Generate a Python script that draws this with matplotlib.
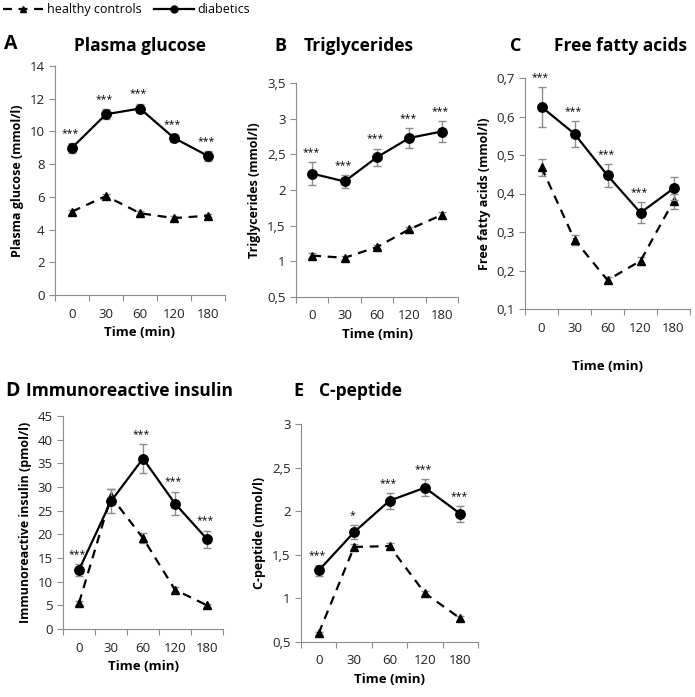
import matplotlib
matplotlib.use("Agg")
import matplotlib.pyplot as plt
from matplotlib.lines import Line2D
from matplotlib.ticker import FuncFormatter

plt.rcParams['font.family'] = ['Open Sans', 'DejaVu Sans']

times = ['0', '30', '60', '120', '180']

# A - plasma glucose (mmol/l)
glu_diab = [9.0, 11.05, 11.4, 9.6, 8.5]
glu_diab_err = [0.3, 0.3, 0.3, 0.25, 0.3]
glu_ctrl = [5.1, 6.05, 5.0, 4.7, 4.85]
glu_ctrl_err = [0.12, 0.15, 0.12, 0.1, 0.1]
glu_stars = ['***', '***', '***', '***', '***']

# B - triglycerides (mmol/l)
tg_diab = [2.23, 2.12, 2.46, 2.73, 2.82]
tg_diab_err = [0.16, 0.09, 0.12, 0.14, 0.15]
tg_ctrl = [1.08, 1.05, 1.2, 1.45, 1.65]
tg_ctrl_err = [0.03, 0.03, 0.03, 0.03, 0.04]
tg_stars = ['***', '***', '***', '***', '***']

# C - free fatty acids (mmol/l)
ffa_diab = [0.625, 0.555, 0.447, 0.35, 0.413]
ffa_diab_err = [0.052, 0.033, 0.03, 0.027, 0.03]
ffa_ctrl = [0.468, 0.28, 0.175, 0.225, 0.38]
ffa_ctrl_err = [0.022, 0.013, 0.008, 0.01, 0.02]
ffa_stars = ['***', '***', '***', '***', '']

# D - immunoreactive insulin (pmol/l)
ins_diab = [12.5, 27.0, 36.0, 26.5, 19.0]
ins_diab_err = [1.2, 2.5, 3.0, 2.5, 1.8]
ins_ctrl = [5.5, 28.0, 19.2, 8.3, 5.0]
ins_ctrl_err = [0.5, 1.5, 1.0, 0.5, 0.3]
ins_stars = ['***', '', '***', '***', '***']

# E - C-peptide (nmol/l)
cp_diab = [1.32, 1.76, 2.12, 2.27, 1.97]
cp_diab_err = [0.06, 0.08, 0.09, 0.1, 0.09]
cp_ctrl = [0.6, 1.59, 1.6, 1.06, 0.77]
cp_ctrl_err = [0.02, 0.03, 0.03, 0.03, 0.03]
cp_stars = ['***', '*', '***', '***', '***']

W, H = 695, 697
fig = plt.figure(figsize=(W / 100, H / 100), dpi=100)
grey = '#8c8c8c'


def px_axes(left, right, top, bottom):
    return fig.add_axes([left / W, 1 - bottom / H, (right - left) / W, (bottom - top) / H])


def comma(v, pos):
    s = ('%g' % v)
    return s.replace('.', ',')


def panel(ax, diab, diab_err, ctrl, ctrl_err, stars, ylim, ystep, ylabel, xlab_pad):
    xs = [i + 0.5 for i in range(len(times))]
    ax.errorbar(xs, ctrl, yerr=ctrl_err, color='black', ls=(0, (4, 3)), lw=1.6,
                marker='^', ms=6, ecolor=grey, elinewidth=1, capsize=3, zorder=3)
    ax.errorbar(xs, diab, yerr=diab_err, color='black', ls='-', lw=1.6,
                marker='o', ms=6.8, ecolor=grey, elinewidth=1, capsize=3, zorder=4)
    for x, y, e, s in zip(xs, diab, diab_err, stars):
        if s:
            ax.annotate(s, (x, y + e), xytext=(-1, 3), textcoords='offset points',
                        ha='center', va='bottom', fontsize=7.5, zorder=5)
    ax.set_xlim(0, 5)
    ax.set_ylim(*ylim)
    ax.set_xticks(range(6))
    ax.set_xticklabels([])
    ax.set_xticks(xs, minor=True)
    ax.set_xticklabels(times, minor=True)
    ax.tick_params(axis='x', which='minor', length=0, pad=9, labelsize=9.5, colors='#222222')
    ax.tick_params(axis='x', which='major', length=4, color=grey, direction='out')
    ticks = []
    v = ylim[0]
    while v <= ylim[1] + 1e-9:
        ticks.append(round(v, 4))
        v += ystep
    ax.set_yticks(ticks)
    ax.yaxis.set_major_formatter(FuncFormatter(comma))
    ax.tick_params(axis='y', length=4, color=grey, labelsize=9.5, labelcolor='#222222')
    for side in ['top', 'right']:
        ax.spines[side].set_visible(False)
    for side in ['left', 'bottom']:
        ax.spines[side].set_color(grey)
    ax.set_ylabel(ylabel, fontsize=9, fontweight='bold')
    ax.set_xlabel('Time (min)', fontsize=9.5, fontweight='bold', labelpad=xlab_pad)


axA = px_axes(55, 225, 66, 295)
panel(axA, glu_diab, glu_diab_err, glu_ctrl, glu_ctrl_err, glu_stars,
      (0, 14), 2, 'Plasma glucose (mmol/l)', 4)
axB = px_axes(296, 458, 83, 297)
panel(axB, tg_diab, tg_diab_err, tg_ctrl, tg_ctrl_err, tg_stars,
      (0.5, 3.5), 0.5, 'Triglycerides (mmol/l)', 4)
axC = px_axes(525, 690, 78, 309)
panel(axC, ffa_diab, ffa_diab_err, ffa_ctrl, ffa_ctrl_err, ffa_stars,
      (0.1, 0.7), 0.1, 'Free fatty acids (mmol/l)', 18)
axD = px_axes(63, 223, 416, 629)
panel(axD, ins_diab, ins_diab_err, ins_ctrl, ins_ctrl_err, ins_stars,
      (0, 45), 5, 'Immunoreactive insulin (pmol/l)', 4)
axE = px_axes(301, 478, 424, 642)
panel(axE, cp_diab, cp_diab_err, cp_ctrl, cp_ctrl_err, cp_stars,
      (0.5, 3), 0.5, 'C-peptide (nmol/l)', 4)

# panel letters and titles
def ftext(x, y, s, size, **kw):
    fig.text(x / W, 1 - y / H, s, fontsize=size, fontweight='bold', va='center', **kw)

ftext(4, 44, 'A', 14)
ftext(140, 46, 'Plasma glucose', 12.5, ha='center')
ftext(274, 46, 'B', 13)
ftext(359, 46, 'Triglycerides', 12.5, ha='center')
ftext(510, 46, 'C', 13)
ftext(621, 46, 'Free fatty acids', 12.5, ha='center')
ftext(5, 391, 'D', 14)
ftext(130, 391, 'Immunoreactive insulin', 12.5, ha='center')
ftext(293, 391, 'E', 13)
ftext(360, 391, 'C-peptide', 12.5, ha='center')

handles = [
    Line2D([], [], color='black', ls=(0, (4, 3)), lw=1.6, marker='^', ms=5),
    Line2D([], [], color='black', ls='-', lw=1.6, marker='o', ms=5),
]
fig.legend(handles, ['healthy controls', 'diabetics'], loc='upper left',
           bbox_to_anchor=(-0.012, 1.012), ncol=2, frameon=False, fontsize=9,
           handlelength=3.2, handletextpad=0.3, columnspacing=1.0)

fig.savefig('out.png', dpi=100)
